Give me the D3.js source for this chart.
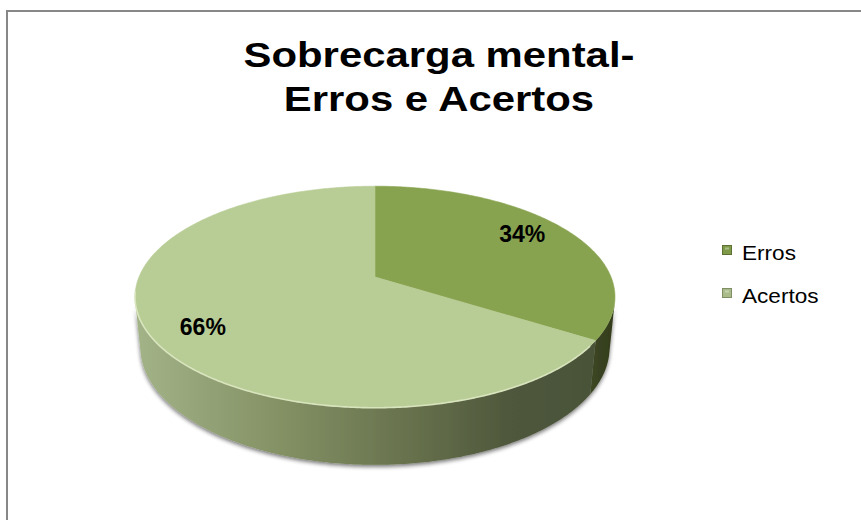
<!DOCTYPE html>
<html>
<head>
<meta charset="utf-8">
<script src="https://cdn.jsdelivr.net/npm/d3@7"></script>
<style>
  html, body { margin: 0; padding: 0; background: #ffffff; }
  svg { display: block; }
</style>
</head>
<body>
<div id="chart"></div>
<script>
// ---------- data ----------
const titleLines = ["Sobrecarga mental-", "Erros e Acertos"];
const categories = ["Erros", "Acertos"];
const values = [34, 66];
const valueLabels = ["34%", "66%"];

// ---------- styles ----------
const topColors = ["#88a34f", "#b8cc95"];
const legendColors = ["#7f9b49", "#a9bb88"];
const legendStroke = ["#5d7232", "#7f8e64"];

const W = 861, H = 520;
const svg = d3.select("#chart").append("svg")
  .attr("width", W).attr("height", H)
  .style("font-family", "'Liberation Sans', Arial, sans-serif");

svg.append("rect").attr("width", W).attr("height", H).attr("fill", "#fff");

const defs = svg.append("defs");
const gA = defs.append("linearGradient").attr("id", "sideA")
  .attr("gradientUnits", "userSpaceOnUse").attr("x1", 137).attr("x2", 600).attr("y1", 0).attr("y2", 0);
[["0%", "#a3b388"], ["30%", "#849265"], ["60%", "#66704c"], ["80%", "#4f583c"], ["100%", "#495238"]]
  .forEach(([o, c]) => gA.append("stop").attr("offset", o).attr("stop-color", c));
const gE = defs.append("linearGradient").attr("id", "sideE")
  .attr("gradientUnits", "userSpaceOnUse").attr("x1", 588).attr("x2", 615).attr("y1", 0).attr("y2", 0);
[["0%", "#3e4825"], ["100%", "#323b1b"]]
  .forEach(([o, c]) => gE.append("stop").attr("offset", o).attr("stop-color", c));
const shadow = defs.append("filter").attr("id", "shadow")
  .attr("x", "-10%").attr("y", "-10%").attr("width", "120%").attr("height", "130%");
shadow.append("feGaussianBlur").attr("in", "SourceAlpha").attr("stdDeviation", 2.2).attr("result", "b");
shadow.append("feOffset").attr("in", "b").attr("dx", 0).attr("dy", 2).attr("result", "o");
shadow.append("feComponentTransfer").attr("in", "o").attr("result", "s")
  .append("feFuncA").attr("type", "linear").attr("slope", 0.55);
const fm = shadow.append("feMerge");
fm.append("feMergeNode").attr("in", "s");
fm.append("feMergeNode").attr("in", "SourceGraphic");
const blur = defs.append("filter").attr("id", "soft");
blur.append("feGaussianBlur").attr("stdDeviation", 0.7);

// chart area border
svg.append("rect").attr("x", 7).attr("y", 11).attr("width", 900).attr("height", 600)
  .attr("fill", "none").attr("stroke", "#878787").attr("stroke-width", 2);

// ---------- title ----------
const title = svg.append("g").attr("transform", "translate(439,0) scale(1.18,1)");
title.selectAll("text").data(titleLines).join("text")
  .attr("x", 0).attr("y", (d, i) => 67 + i * 44.5)
  .attr("text-anchor", "middle").attr("font-weight", "bold")
  .attr("font-size", 35.5).attr("fill", "#000").text(d => d);

// ---------- 3D pie projection ----------
const cx = 375, cy = 277, F = 1166, D = 4.94, elev = 27 * Math.PI / 180, depth = 0.2425;
function proj(t, r, Y) {
  const X = r * Math.sin(t), Z = -r * Math.cos(t);
  const yc = Z * Math.sin(elev) - Y * Math.cos(elev);
  const zc = D - Z * Math.cos(elev) - Y * Math.sin(elev);
  return [cx + F * X / zc, cy + F * yc / zc];
}
const arcs = d3.pie().sort(null).value(d => d)(values);
const line = d3.line();
function sample(a0, a1, r, Y) {
  const n = Math.max(2, Math.ceil(Math.abs(a1 - a0) / 0.01));
  return d3.range(n + 1).map(i => proj(a0 + (a1 - a0) * i / n, r, Y));
}
// visible range of the outer wall
const cLim = Math.acos(-1 / (D * Math.cos(elev)));
const vis0 = cLim, vis1 = 2 * Math.PI - cLim;

const walls = svg.append("g").attr("filter", "url(#shadow)");
arcs.forEach((a, i) => {
  const s = Math.max(a.startAngle, vis0), e = Math.min(a.endAngle, vis1);
  if (e <= s) return;
  const top = sample(s, e, 1, 0);
  const bot = sample(s, e, 1, -depth).reverse();
  walls.append("path").attr("d", line(top.concat(bot)) + "Z")
    .attr("fill", i === 0 ? "url(#sideE)" : "url(#sideA)");
});

const tops = svg.append("g");
arcs.forEach((a, i) => {
  const pts = [proj(0, 0, 0)].concat(sample(a.startAngle, a.endAngle, 1, 0));
  tops.append("path").attr("d", line(pts) + "Z").attr("fill", topColors[i])
    .attr("stroke", topColors[i]).attr("stroke-width", 0.6);
});
// rim highlight on the front edge of the top face
svg.append("path")
  .attr("d", line(sample(Math.max(arcs[1].startAngle + 0.05, vis0), vis1 + 0.1, 1, 0)))
  .attr("fill", "none").attr("stroke", "#dde8c3").attr("stroke-width", 1.6)
  .attr("filter", "url(#soft)").attr("opacity", 0.9);

// value labels (placed on the projected top face, near each slice's mid-angle)
const labelR = 0.8, labelShift = -0.07;
const labelPos = d => proj((d.startAngle + d.endAngle) / 2 + labelShift, labelR, 0);
svg.append("g").selectAll("text").data(arcs).join("text")
  .attr("x", d => labelPos(d)[0])
  .attr("y", d => labelPos(d)[1] + 8)
  .attr("text-anchor", "middle").attr("font-weight", "bold").attr("font-size", 23)
  .attr("fill", "#000").text((d, i) => valueLabels[i]);

// ---------- legend ----------
const legend = svg.append("g").attr("transform", "translate(722,245)");
const items = legend.selectAll("g").data(categories).join("g")
  .attr("transform", (d, i) => `translate(0,${i * 43})`);
items.append("rect").attr("x", 0.5).attr("y", 0.5).attr("width", 9).attr("height", 9)
  .attr("fill", (d, i) => legendColors[i]).attr("stroke", (d, i) => legendStroke[i]).attr("stroke-width", 1);
items.append("rect").attr("x", 3).attr("y", 2.5).attr("width", 4).attr("height", 2)
  .attr("fill", "#ffffff").attr("opacity", 0.35);
items.append("text").attr("transform", "translate(20,14.5) scale(1.13,1)")
  .attr("font-size", 20).attr("fill", "#000").text(d => d);
</script>
</body>
</html>
